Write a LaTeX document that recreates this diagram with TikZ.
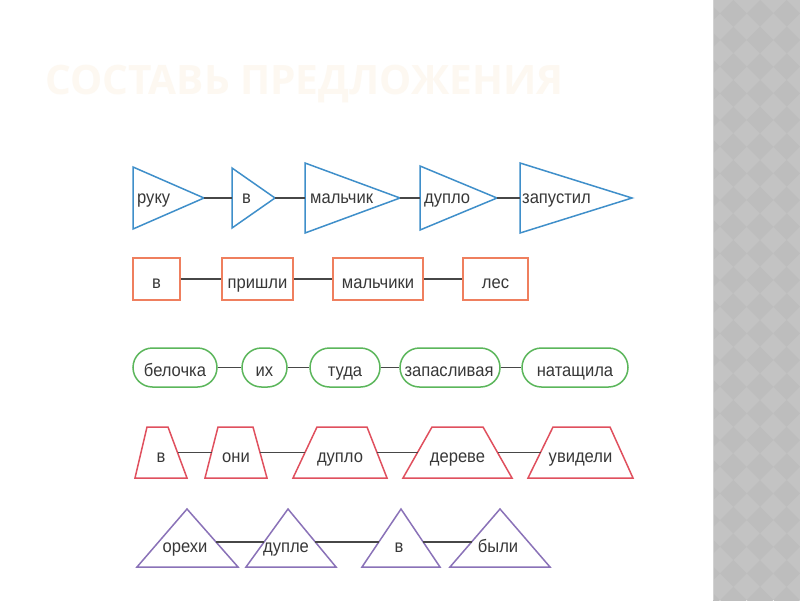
\documentclass[tikz,border=0pt]{standalone}
\usepackage{fontspec}
\setmainfont{Liberation Sans}
\newfontfamily\lblfont{Liberation Sans}[FakeStretch=0.92]
\newfontfamily\titlefont{Open Sans}
\usetikzlibrary{calc}
\definecolor{cblue}{HTML}{3F8FCA}
\definecolor{corange}{HTML}{EF7F5E}
\definecolor{cgreen}{HTML}{5BB65B}
\definecolor{cred}{HTML}{E0505E}
\definecolor{cpurple}{HTML}{8A72B8}
\definecolor{cconn}{HTML}{474747}
\definecolor{ctext}{HTML}{383838}
\definecolor{ctitle}{HTML}{FDF8F1}
\definecolor{stripbg}{HTML}{C3C3C3}
\definecolor{stripdk}{HTML}{BDBDBD}
\definecolor{stripedge}{HTML}{D2D2D2}
\tikzset{
  lbl/.style={inner sep=0pt, text=ctext, font=\lblfont\fontsize{18}{21}\selectfont},
  shp/.style={line width=1.5pt, line join=miter},
  conn/.style={draw=cconn, line width=1.5pt},
  boxshape/.style={draw=corange, line width=1.5pt, minimum height=42pt, inner sep=0pt},
  pillshape/.style={draw=cgreen, line width=1.5pt, minimum height=39pt, rounded corners=19.5pt, inner sep=0pt},
  titlestyle/.style={inner sep=0pt, text=ctitle, font=\titlefont\bfseries\fontsize{40.5}{46}\selectfont}
}
% right-pointing triangle: name, x left, x tip, half height, text x, text
\newcommand\RTri[6]{%
  \draw[shp, draw=cblue] (#2,{198-#4}) -- (#3,198) -- (#2,{198+#4}) -- cycle;
  \coordinate (#1-w) at (#2,198);
  \coordinate (#1-e) at (#3,198);
  \node[lbl, anchor=base west] (#1) at (#5,203) {#6};}
% trapezium: name, top left, top right, bottom left, bottom right, text
\newcommand\Trap[6]{%
  \draw[shp, draw=cred] (#2,427) -- (#3,427) -- (#5,478) -- (#4,478) -- cycle;
  \coordinate (#1-w) at ({(#2+#4)/2},452.5);
  \coordinate (#1-e) at ({(#3+#5)/2},452.5);
  \node[lbl, anchor=base] (#1) at ({(#4+#5)/2},462) {#6};}
% upward triangle: name, base left, base right, apex x, text
\newcommand\UTri[5]{%
  \draw[shp, draw=cpurple] (#2,567) -- (#4,509) -- (#3,567) -- cycle;
  \coordinate (#1-a) at (#4,509);
  \coordinate (#1-l) at (#2,567);
  \coordinate (#1-r) at (#3,567);
  \coordinate (#1-w) at ($(#1-a)!0.57!(#1-l)$);
  \coordinate (#1-e) at ($(#1-a)!0.57!(#1-r)$);
  \node[lbl, anchor=base] (#1) at ({#4-2},552) {#5};}

\begin{document}
\begin{tikzpicture}[x=1pt,y=-1pt]
\useasboundingbox (0,0) rectangle (800,600);
\fill[white] (0,0) rectangle (800,600);
% decorative strip
\begin{scope}
  \clip (713,0) rectangle (800,600);
  \fill[stripbg] (713,0) rectangle (800,600);
  \foreach \i in {-1,...,4} {
    \foreach \j in {-1,...,23} {
      \fill[stripdk] ({706.67+26.67*\i-13.33},{13.33+26.67*\j}) -- ++(13.33,-13.33) -- ++(13.33,13.33) -- ++(-13.33,13.33) -- cycle;
    }
  }
  \draw[stripedge, line width=1.2pt] (713.6,0) -- (713.6,600);
\end{scope}
% title
\node[titlestyle, anchor=base west] (title) at (45,94) {СОСТАВЬ ПРЕДЛОЖЕНИЯ};

% row 1
\RTri{a1}{133}{204}{31}{137}{руку}
\RTri{a2}{232}{275}{30}{242}{в}
\RTri{a3}{305}{400}{35}{310}{мальчик}
\RTri{a4}{420}{497}{32}{424}{дупло}
\RTri{a5}{520}{632}{35}{522}{запустил}
\draw[conn] (a1-e) -- (a2-w);
\draw[conn] (a2-e) -- (a3-w);
\draw[conn] (a3-e) -- (a4-w);
\draw[conn] (a4-e) -- (a5-w);

% row 2
\node[boxshape, minimum width=47pt] (b1) at (156.5,279) {};
\node[boxshape, minimum width=71pt] (b2) at (257.5,279) {};
\node[boxshape, minimum width=90pt] (b3) at (378,279) {};
\node[boxshape, minimum width=65pt] (b4) at (495.5,279) {};
\node[lbl, anchor=base] (b1t) at (156.5,288) {в};
\node[lbl, anchor=base] (b2t) at (257.5,288) {пришли};
\node[lbl, anchor=base] (b3t) at (378,288) {мальчики};
\node[lbl, anchor=base] (b4t) at (495.5,288) {лес};
\draw[conn] (b1.east) -- (b2.west);
\draw[conn] (b2.east) -- (b3.west);
\draw[conn] (b3.east) -- (b4.west);

% row 3
\node[pillshape, minimum width=84pt] (c1) at (175,367.5) {};
\node[pillshape, minimum width=45pt] (c2) at (264.5,367.5) {};
\node[pillshape, minimum width=70pt] (c3) at (345,367.5) {};
\node[pillshape, minimum width=100pt] (c4) at (450,367.5) {};
\node[pillshape, minimum width=106pt] (c5) at (575,367.5) {};
\node[lbl, anchor=base] (c1t) at (175,376) {белочка};
\node[lbl, anchor=base] (c2t) at (264.5,376) {их};
\node[lbl, anchor=base] (c3t) at (345,376) {туда};
\node[lbl, anchor=base] (c4t) at (449,376) {запасливая};
\node[lbl, anchor=base] (c5t) at (575,376) {натащила};
\draw[conn] (c1.east) -- (c2.west);
\draw[conn] (c2.east) -- (c3.west);
\draw[conn] (c3.east) -- (c4.west);
\draw[conn] (c4.east) -- (c5.west);

% row 4
\Trap{d1}{147}{168}{135}{187}{в}
\Trap{d2}{218}{253}{205}{267}{они}
\Trap{d3}{317}{367}{293}{387}{дупло}
\Trap{d4}{432}{483}{403}{512}{дереве}
\Trap{d5}{553}{610}{528}{633}{увидели}
\draw[conn] (d1-e) -- (d2-w);
\draw[conn] (d2-e) -- (d3-w);
\draw[conn] (d3-e) -- (d4-w);
\draw[conn] (d4-e) -- (d5-w);

% row 5
\UTri{e1}{137}{238}{187}{орехи}
\UTri{e2}{246}{336}{288}{дупле}
\UTri{e3}{362}{440}{401}{в}
\UTri{e4}{450}{550}{500}{были}
\draw[conn] (e1-e) -- (e2-w);
\draw[conn] (e2-e) -- (e3-w);
\draw[conn] (e3-e) -- (e4-w);
\end{tikzpicture}
\end{document}
